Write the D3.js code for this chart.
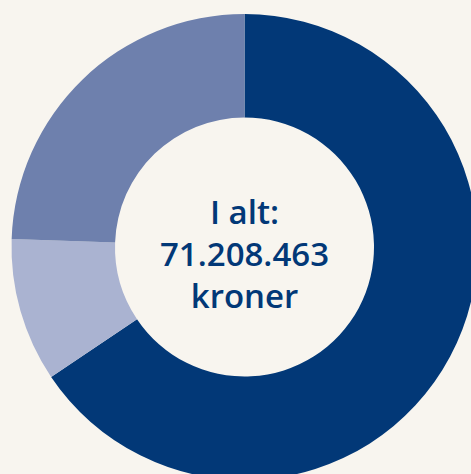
<!DOCTYPE html>
<html>
<head>
<meta charset="utf-8">
<script src="https://cdn.jsdelivr.net/npm/d3@7"></script>
<style>
  html, body { margin: 0; padding: 0; background: #f8f5ef; overflow: hidden; }
</style>
</head>
<body>
<div id="chart"></div>
<script>
// Data (estimated shares of the total, in kroner)
var categories = ["A", "B", "C"];
var values = [46700000, 7100000, 17408463];
var colors = ["#023877", "#aab3d1", "#6e80ad"];
var centerLines = ["I alt:", "71.208.463", "kroner"];

function init() {
    var w = 471;
    var h = 474;
    var cx = 244.5;
    var cy = 247;
    var outerR = 233;
    var innerR = 129.5;

    var svg = d3.select("#chart")
        .append("svg")
        .attr("width", w)
        .attr("height", h);

    svg.append("rect")
        .attr("width", w)
        .attr("height", h)
        .attr("fill", "#f8f5ef");

    var data = categories.map(function(c, i) {
        return { name: c, value: values[i], color: colors[i] };
    });

    var pie = d3.pie()
        .sort(null)
        .value(function(d) { return d.value; });

    var arc = d3.arc()
        .innerRadius(innerR)
        .outerRadius(outerR);

    var g = svg.append("g")
        .attr("transform", "translate(" + cx + "," + cy + ")");

    g.selectAll("path")
        .data(pie(data))
        .enter()
        .append("path")
        .attr("d", arc)
        .attr("fill", function(d) { return d.data.color; });

    // Centre label
    var lineH = 42;
    g.selectAll("text.center")
        .data(centerLines)
        .enter()
        .append("text")
        .attr("class", "center")
        .attr("x", 0)
        .attr("y", function(d, i) { return -23 + i * lineH; })
        .attr("text-anchor", "middle")
        .attr("font-family", "'Open Sans', sans-serif")
        .attr("font-weight", 600)
        .attr("font-size", 33)
        .attr("fill", "#023877")
        .text(function(d) { return d; });
}

window.onload = init;
</script>
</body>
</html>
